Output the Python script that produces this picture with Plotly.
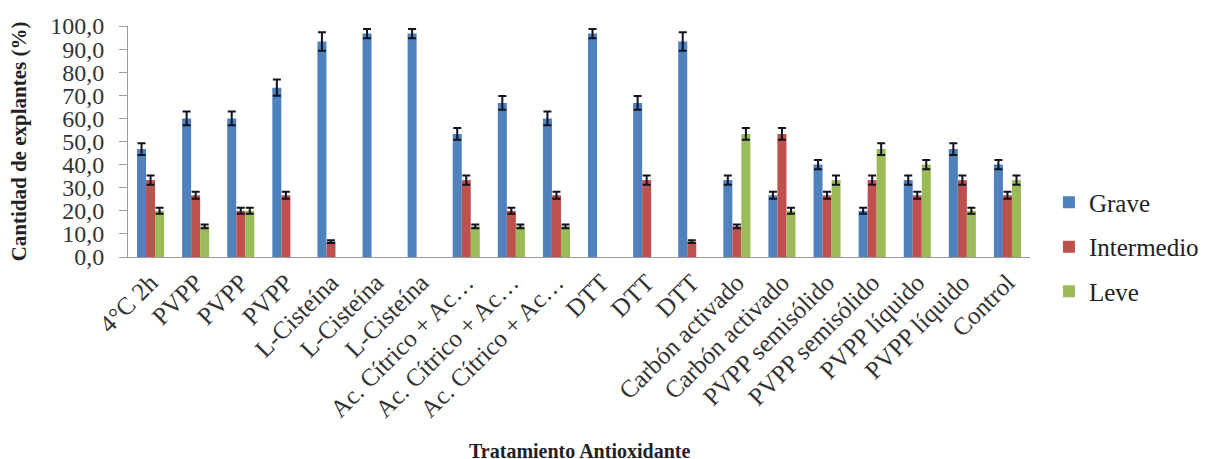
import plotly.graph_objects as go

categories = ["4°C 2h", "PVPP", "PVPP", "PVPP", "L-Cisteína", "L-Cisteína", "L-Cisteína",
              "Ac. Cítrico + Ac…", "Ac. Cítrico + Ac…", "Ac. Cítrico + Ac…",
              "DTT", "DTT", "DTT", "Carbón activado", "Carbón activado",
              "PVPP semisólido", "PVPP semisólido", "PVPP líquido", "PVPP líquido", "Control"]

grave = [46.7, 60.0, 60.0, 73.3, 93.3, 96.7, 96.7, 53.3, 66.7, 60.0,
         96.7, 66.7, 93.3, 33.3, 26.7, 40.0, 20.0, 33.3, 46.7, 40.0]
intermedio = [33.3, 26.7, 20.0, 26.7, 6.7, 0, 0, 33.3, 20.0, 26.7,
              0, 33.3, 6.7, 13.3, 53.3, 26.7, 33.3, 26.7, 33.3, 26.7]
leve = [20.0, 13.3, 20.0, 0, 0, 0, 0, 13.3, 13.3, 13.3,
        0, 0, 0, 53.3, 20.0, 33.3, 46.7, 40.0, 20.0, 33.3]

err_grave = [2.5, 3.0, 3.0, 3.5, 4.0, 2.0, 2.0, 2.5, 3.0, 3.0,
             2.0, 3.0, 4.0, 2.0, 1.5, 2.0, 1.3, 2.0, 2.5, 2.0]
err_intermedio = [2.0, 1.5, 1.3, 1.5, 0.6, 0, 0, 2.0, 1.3, 1.5,
                  0, 2.0, 0.6, 0.8, 2.5, 1.5, 2.0, 1.5, 2.0, 1.5]
err_leve = [1.3, 0.8, 1.3, 0, 0, 0, 0, 0.8, 0.8, 0.8,
            0, 0, 0, 2.5, 1.3, 2.0, 2.5, 2.0, 1.3, 2.0]

series = [("Grave", grave, err_grave, "#4F81BD"),
          ("Intermedio", intermedio, err_intermedio, "#C0504D"),
          ("Leve", leve, err_leve, "#9BBB59")]

x = list(range(len(categories)))
serif = "Liberation Serif"

fig = go.Figure()
for i, (name, vals, errs, col) in enumerate(series):
    ys = [v if v > 0 else None for v in vals]
    es = [e if v > 0 else None for v, e in zip(vals, errs)]
    fig.add_trace(go.Bar(
        x=x, y=ys, name=name, marker=dict(color=col, line=dict(width=0)),
        legendgroup=name,
        error_y=dict(type="data", array=es, visible=True, color="#111122",
                     thickness=2, width=4),
    ))

# page has an 8px body margin: figure is offset by (8, 8)
fig.update_layout(
    width=1203, height=451,
    margin=dict(l=120, r=181, t=18, b=202, autoexpand=False),
    paper_bgcolor="white", plot_bgcolor="white",
    barmode="group", bargap=0.4, bargroupgap=0,
    separators=",.",
    font=dict(family=serif, color="#222222"),
    showlegend=True,
    legend=dict(x=1.021, y=0.336, xanchor="left", yanchor="top",
                font=dict(family=serif, size=25, color="#222222"),
                traceorder="grouped", tracegroupgap=9, itemwidth=30),
    xaxis=dict(
        tickmode="array", tickvals=x, ticktext=categories,
        tickangle=-45, range=[-0.5, len(categories) - 0.5],
        showline=True, linecolor="#9a9a9a", linewidth=1,
        ticks="", showgrid=False, zeroline=False, automargin=False,
        tickfont=dict(family=serif, size=25, color="#333333"),
    ),
    yaxis=dict(
        range=[0, 100], dtick=10, tickformat=".1f",
        showline=True, linecolor="#9a9a9a", linewidth=1,
        ticks="outside", ticklen=8, tickcolor="#9a9a9a",
        ticklabelstandoff=10, automargin=False,
        showgrid=False, zeroline=False,
        tickfont=dict(family=serif, size=24, color="#333333"),
    ),
    annotations=[
        dict(text="<b>Cantidad de explantes (%)</b>", textangle=-90,
             xref="paper", yref="paper", x=-0.121, y=0.5,
             xanchor="center", yanchor="middle", showarrow=False,
             font=dict(family=serif, size=21, color="#222222")),
        dict(text="<b>Tratamiento Antioxidante</b>",
             xref="paper", yref="paper", x=0.5, y=-0.84,
             xanchor="center", yanchor="middle", showarrow=False,
             font=dict(family=serif, size=20, color="#222222")),
    ],
)

fig.write_html("out.html")
